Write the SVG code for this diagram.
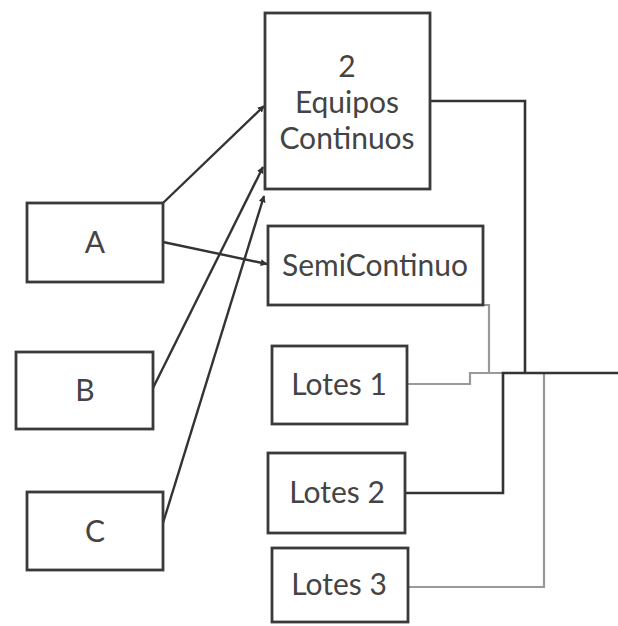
<svg xmlns="http://www.w3.org/2000/svg" width="618" height="626" viewBox="0 0 618 626">
<defs>
<marker id="ah" viewBox="0 0 10 10" refX="9" refY="5" markerWidth="7" markerHeight="7" orient="auto" markerUnits="userSpaceOnUse">
<path d="M0,0 L10,5 L0,10 z" fill="#333"/>
</marker>
<style>
.box{fill:#fff;stroke:#3a3a3a;stroke-width:2.8}
.t{font-family:Lato,"Liberation Sans",sans-serif;font-size:30px;fill:#444;text-anchor:middle}
.dk{fill:none;stroke:#333;stroke-width:2.6}
.lt{fill:none;stroke:#999;stroke-width:2.2}
.ar{fill:none;stroke:#333;stroke-width:2.4}
</style>
</defs>
<rect width="618" height="626" fill="#fff"/>
<g id="connectors">
<line class="ar" x1="163" y1="203" x2="264" y2="106" marker-end="url(#ah)"/>
<line class="ar" x1="163" y1="242" x2="267" y2="264" marker-end="url(#ah)"/>
<line class="ar" x1="153" y1="388" x2="263" y2="167" marker-end="url(#ah)"/>
<line class="ar" x1="163" y1="523" x2="264" y2="196" marker-end="url(#ah)"/>
<polyline class="lt" points="483,305 489,305 489,373"/>
<polyline class="lt" points="407,384 470,384 470,373 503,373"/>
<polyline class="lt" points="408,587 544,587 544,373"/>
<polyline class="dk" points="430,101 525,101 525,373"/>
<polyline class="dk" points="405,493 503,493 503,373 618,373"/>
</g>
<g id="equipos">
<rect class="box" x="265" y="13" width="165" height="176"/>
<text class="t" x="347" y="77">2</text>
<text class="t" x="347" y="113">Equipos</text>
<text class="t" x="347" y="149">Continuos</text>
</g>
<g id="semicontinuo">
<rect class="box" x="268" y="226" width="215" height="79"/>
<text class="t" x="375" y="276">SemiContinuo</text>
</g>
<g id="lotes1">
<rect class="box" x="272" y="346" width="135" height="78"/>
<text class="t" x="339" y="395">Lotes 1</text>
</g>
<g id="lotes2">
<rect class="box" x="268" y="453" width="137" height="80"/>
<text class="t" x="337" y="503">Lotes 2</text>
</g>
<g id="lotes3">
<rect class="box" x="272" y="548" width="136" height="74"/>
<text class="t" x="339" y="595">Lotes 3</text>
</g>
<g id="A">
<rect class="box" x="27" y="203" width="136" height="79"/>
<text class="t" x="95" y="253">A</text>
</g>
<g id="B">
<rect class="box" x="16" y="352" width="137" height="77"/>
<text class="t" x="85" y="401">B</text>
</g>
<g id="C">
<rect class="box" x="27" y="492" width="136" height="78"/>
<text class="t" x="95" y="542">C</text>
</g>
</svg>
